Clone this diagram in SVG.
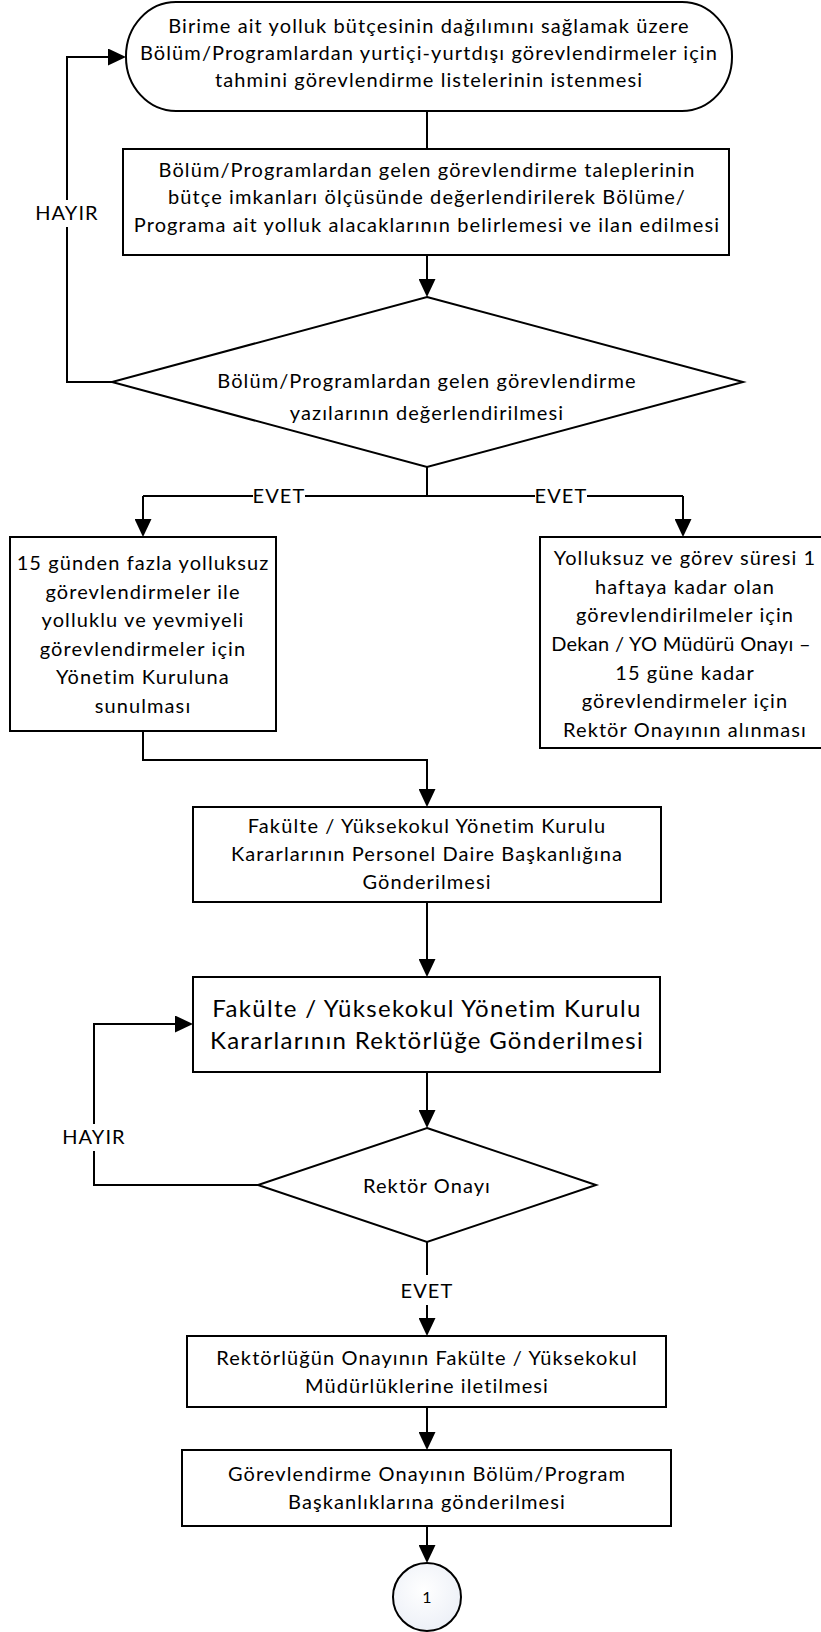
<svg xmlns="http://www.w3.org/2000/svg" width="821" height="1632" viewBox="0 0 821 1632">
<defs>
<style>
.s{fill:#fff;stroke:#000;stroke-width:2}
.c{fill:none;stroke:#000;stroke-width:2}
.t{font-family:Lato,"Liberation Sans",sans-serif;font-size:20px;letter-spacing:1.1px;fill:#000;text-anchor:middle}
.b{font-size:24px;letter-spacing:1.3px}
.bg{fill:#fff;stroke:none}
</style>
<marker id="ah" viewBox="0 0 18 17" refX="14" refY="8.5" markerWidth="18" markerHeight="17" markerUnits="userSpaceOnUse" orient="auto">
<path d="M0,0 L18,8.5 L0,17 z" fill="#000"/>
</marker>
<radialGradient id="cg" cx="0.45" cy="0.4" r="0.7">
<stop offset="0" stop-color="#ffffff"/>
<stop offset="1" stop-color="#eaeef6"/>
</radialGradient>
</defs>
<rect width="821" height="1632" fill="#fff"/>

<g id="connectors">
<path class="c" d="M427,111 V149"/>
<polygon points="427,149 418.5,166 435.5,166" fill="#000"/>
<path class="c" d="M427,255 V293" marker-end="url(#ah)"/>
<path class="c" d="M112,382 H67 V57 H122" marker-end="url(#ah)"/>
<path class="c" d="M427,467 V496 M143,496 H683"/>
<path class="c" d="M143,496 V533" marker-end="url(#ah)"/>
<path class="c" d="M683,496 V533" marker-end="url(#ah)"/>
<path class="c" d="M143,731 V760 H427 V803" marker-end="url(#ah)"/>
<path class="c" d="M427,902 V973" marker-end="url(#ah)"/>
<path class="c" d="M427,1072 V1124" marker-end="url(#ah)"/>
<path class="c" d="M258,1185 H94 V1024 H189" marker-end="url(#ah)"/>
<path class="c" d="M427,1242 V1332" marker-end="url(#ah)"/>
<path class="c" d="M427,1407 V1446" marker-end="url(#ah)"/>
<path class="c" d="M427,1526 V1559" marker-end="url(#ah)"/>
<rect class="bg" x="35" y="200" width="64" height="27"/>
<text class="t" x="67" y="220">HAYIR</text>
<rect class="bg" x="253" y="486" width="52" height="20"/>
<text class="t" x="279" y="503">EVET</text>
<rect class="bg" x="535" y="486" width="52" height="20"/>
<text class="t" x="561" y="503">EVET</text>
<rect class="bg" x="62" y="1124" width="64" height="27"/>
<text class="t" x="94" y="1144">HAYIR</text>
<rect class="bg" x="401" y="1275" width="52" height="30"/>
<text class="t" x="427" y="1298">EVET</text>
</g>

<g id="n1">
<rect class="s" x="126" y="2" width="606" height="109" rx="50" ry="54"/>
<text class="t" x="429" y="33">Birime ait yolluk bütçesinin dağılımını sağlamak üzere</text>
<text class="t" x="429" y="60">Bölüm/Programlardan yurtiçi-yurtdışı görevlendirmeler için</text>
<text class="t" x="429" y="87">tahmini görevlendirme listelerinin istenmesi</text>
</g>

<g id="n2">
<rect class="s" x="123" y="149" width="606" height="106"/>
<text class="t" x="427" y="177">Bölüm/Programlardan gelen görevlendirme taleplerinin</text>
<text class="t" x="427" y="204">bütçe imkanları ölçüsünde değerlendirilerek Bölüme/</text>
<text class="t" x="427" y="232">Programa ait yolluk alacaklarının belirlemesi ve ilan edilmesi</text>
</g>

<g id="n3">
<polygon class="s" points="427,297 743,382 427,467 112,382"/>
<text class="t" x="427" y="388">Bölüm/Programlardan gelen görevlendirme</text>
<text class="t" x="427" y="420">yazılarının değerlendirilmesi</text>
</g>

<g id="n4">
<rect class="s" x="10" y="537" width="266" height="194"/>
<text class="t" x="143" y="570">15 günden fazla yolluksuz</text>
<text class="t" x="143" y="598.5">görevlendirmeler ile</text>
<text class="t" x="143" y="627">yolluklu ve yevmiyeli</text>
<text class="t" x="143" y="655.5">görevlendirmeler için</text>
<text class="t" x="143" y="684">Yönetim Kuruluna</text>
<text class="t" x="143" y="712.5">sunulması</text>
</g>

<g id="n5">
<rect class="s" x="540" y="537" width="290" height="211"/>
<text class="t" x="685" y="565">Yolluksuz ve görev süresi 1</text>
<text class="t" x="685" y="593.7">haftaya kadar olan</text>
<text class="t" x="685" y="622.3">görevlendirilmeler için</text>
<text class="t" x="681" y="651" style="letter-spacing:0.3px">Dekan / YO Müdürü Onayı –</text>
<text class="t" x="685" y="679.7">15 güne kadar</text>
<text class="t" x="685" y="708.3">görevlendirmeler için</text>
<text class="t" x="685" y="737">Rektör Onayının alınması</text>
</g>

<g id="n6">
<rect class="s" x="193" y="807" width="468" height="95"/>
<text class="t" x="427" y="833">Fakülte / Yüksekokul Yönetim Kurulu</text>
<text class="t" x="427" y="861">Kararlarının Personel Daire Başkanlığına</text>
<text class="t" x="427" y="889">Gönderilmesi</text>
</g>

<g id="n7">
<rect class="s" x="193" y="977" width="467" height="95"/>
<text class="t b" x="427" y="1017">Fakülte / Yüksekokul Yönetim Kurulu</text>
<text class="t b" x="427" y="1049">Kararlarının Rektörlüğe Gönderilmesi</text>
</g>

<g id="n8">
<polygon class="s" points="427,1128 596,1185 427,1242 258,1185"/>
<text class="t" x="427" y="1193">Rektör Onayı</text>
</g>

<g id="n9">
<rect class="s" x="187" y="1336" width="479" height="71"/>
<text class="t" x="427" y="1365">Rektörlüğün Onayının Fakülte / Yüksekokul</text>
<text class="t" x="427" y="1393">Müdürlüklerine iletilmesi</text>
</g>

<g id="n10">
<rect class="s" x="182" y="1450" width="489" height="76"/>
<text class="t" x="427" y="1481">Görevlendirme Onayının Bölüm/Program</text>
<text class="t" x="427" y="1509">Başkanlıklarına gönderilmesi</text>
</g>

<g id="n11">
<circle cx="427" cy="1597" r="34" fill="url(#cg)" stroke="#000" stroke-width="2"/>
<text class="t" x="427" y="1603" style="font-size:16px;letter-spacing:0">1</text>
</g>
</svg>
